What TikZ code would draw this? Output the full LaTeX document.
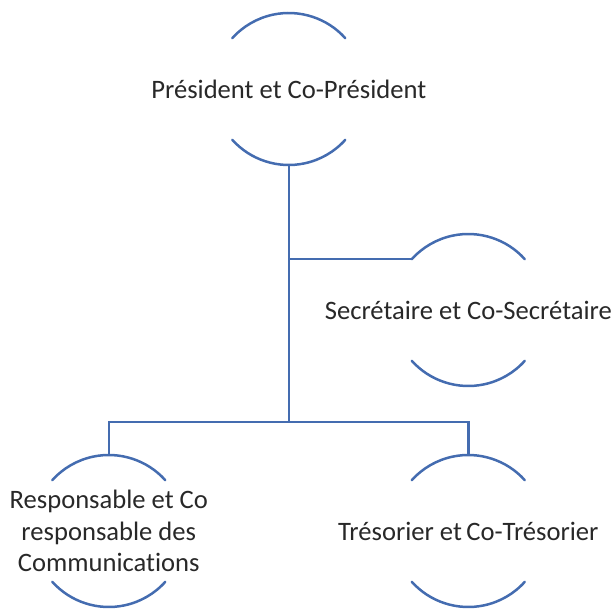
\documentclass[tikz,border=0pt]{standalone}
\usepackage{fontspec}
\setmainfont{Carlito}[Ligatures=NoCommon]
\definecolor{linkblue}{RGB}{68,108,176}
\definecolor{txtgray}{RGB}{40,40,40}
\begin{document}
\begin{tikzpicture}[x=1pt,y=-1pt,
  ring/.style={circle,draw=none,inner sep=0pt,outer sep=0pt,minimum size=152pt},
  lbl/.style={font=\fontsize{26.6}{31.6}\selectfont,text=txtgray,align=center,inner sep=0pt},
  arcline/.style={draw=linkblue,line width=2.5pt,line cap=round},
  link/.style={draw=linkblue,line width=2.5pt}]
\useasboundingbox (0,0) rectangle (614,612);
% circles (invisible), only the arcs are drawn
\node[ring] (pres) at (288.8,89) {};
\node[ring] (sec) at (468.3,310) {};
\node[ring] (resp) at (108.8,531) {};
\node[ring] (tres) at (468.3,531) {};
\foreach \n in {pres,sec,resp,tres}{
  \draw[arcline] (\n.42) arc[start angle=42,end angle=138,radius=76pt];
  \draw[arcline] (\n.222) arc[start angle=222,end angle=318,radius=76pt];
}
% texts
\node[lbl] (presT) at (pres) {Président et Co-Président};
\node[lbl] (secT) at (sec) {Secrétaire et Co-Secrétaire};
\node[lbl] (respT) at (resp) {Responsable et Co\\responsable des\\Communications};
\node[lbl] (tresT) at (tres) {Trésorier et\,Co-Trésorier};
% connectors
\coordinate (jb) at (288.8,422);
\draw[link] (pres.south) -- (jb);
\draw[link] (sec.138) -- (sec.138 -| pres.south);
\draw[link] (resp.north) |- (jb) -| (tres.north);
\end{tikzpicture}
\end{document}
